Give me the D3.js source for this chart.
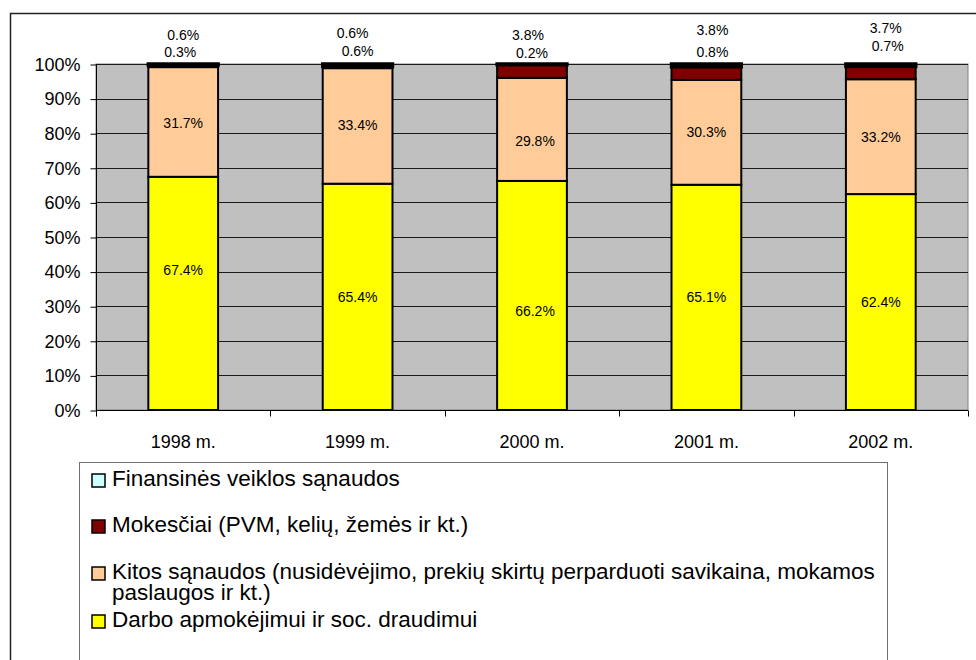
<!DOCTYPE html>
<html>
<head>
<meta charset="utf-8">
<script src="https://cdn.jsdelivr.net/npm/d3@7"></script>
<style>
  html, body { margin: 0; padding: 0; background: #fff; }
  svg { display: block; font-family: "Liberation Sans", Arial, sans-serif; }
</style>
</head>
<body>
<svg id="chart" width="976" height="660"></svg>
<script>
// ---- data ----
const years = ["1998 m.", "1999 m.", "2000 m.", "2001 m.", "2002 m."];
const darbo = [67.4, 65.4, 66.2, 65.1, 62.4];
const kitos = [31.7, 33.4, 29.8, 30.3, 33.2];
const mokesciai = [0.6, 0.6, 3.8, 3.8, 3.7];
const finansines = [0.3, 0.6, 0.2, 0.8, 0.7];
const yTicks = [0, 10, 20, 30, 40, 50, 60, 70, 80, 90, 100];
const seriesNames = [
  "Darbo apmokėjimui ir soc. draudimui",
  "Kitos sąnaudos (nusidėvėjimo, prekių skirtų perparduoti savikaina, mokamos paslaugos ir kt.)",
  "Mokesčiai (PVM, kelių, žemės ir kt.)",
  "Finansinės veiklos sąnaudos"
];

// ---- styles / layout ----
const colors = ["#FFFF00", "#FFCC99", "#800000", "#CCFFFF"];
const strokeW = [2, 2, 2, 3.5];
const plot = { left: 96, right: 968, top: 64, bottom: 410 };
// manual label nudges (px), as placed in the original
const darboDy = [-23, 0, 16, 0, 0];
const kitosDy = [1, -1, 12, 0, 0];
const innerDx = [0, 0, 3, 0, 0];
const topDx = [0, -5, -4, 6, 5];
const topY = [35, 33, 35, 30, 28];
const botDx = [-3, 0, 0, 6, 7];
const botY = [52, 51, 53, 52, 46];

const svg = d3.select("#chart");

// outer chart border
svg.append("rect").attr("x", 10.5).attr("y", 13.5).attr("width", 1000).attr("height", 700)
  .attr("fill", "#fff").attr("stroke", "#222").attr("stroke-width", 1.5);

const x = d3.scaleBand().domain(years).range([plot.left, plot.right]).paddingInner(0.6).paddingOuter(0.3);
const xc = d3.scaleBand().domain(years).range([plot.left, plot.right]);
const y = d3.scaleLinear().domain([0, 100]).range([plot.bottom, plot.top]);

// plot background
svg.append("rect").attr("x", plot.left).attr("y", plot.top)
  .attr("width", plot.right - plot.left).attr("height", plot.bottom - plot.top)
  .attr("fill", "#C0C0C0").attr("stroke", "#808080").attr("stroke-width", 1);

// gridlines
svg.append("g").selectAll("line").data(yTicks.filter(t => t > 0)).join("line")
  .attr("x1", plot.left).attr("x2", plot.right)
  .attr("y1", d => Math.round(y(d)) + 0.5).attr("y2", d => Math.round(y(d)) + 0.5)
  .attr("stroke", "#1a1a1a").attr("stroke-width", 1);

// y axis
const yAxis = d3.axisLeft(y).tickValues(yTicks).tickFormat(d => d + "%").tickSize(6).tickPadding(10);
const gy = svg.append("g").attr("transform", `translate(${plot.left + 0.5},0.5)`).call(yAxis);
gy.select(".domain").attr("stroke", "#000").attr("d", `M0,${plot.top}V${plot.bottom}`);
gy.selectAll("line").attr("stroke", "#000");
gy.selectAll("text").attr("font-size", 18).attr("fill", "#000")
  .attr("font-family", "Liberation Sans, Arial, sans-serif");

// x axis (ticks at category boundaries)
const gx = svg.append("g").attr("transform", `translate(0,${plot.bottom + 0.5})`);
gx.append("line").attr("x1", plot.left).attr("x2", plot.right).attr("stroke", "#000");
const bounds = years.map(d => xc(d)).concat([plot.right]);
gx.selectAll("line.tk").data(bounds).join("line").attr("class", "tk")
  .attr("x1", d => Math.round(d) + 0.5).attr("x2", d => Math.round(d) + 0.5)
  .attr("y1", 0).attr("y2", 6).attr("stroke", "#000");
gx.selectAll("text").data(years).join("text")
  .attr("x", d => xc(d) + xc.bandwidth() / 2).attr("y", 37)
  .attr("text-anchor", "middle").attr("font-size", 18).text(d => d);

// stacked bars
const rows = years.map((yr, i) => ({ year: yr, s0: darbo[i], s1: kitos[i], s2: mokesciai[i], s3: finansines[i] }));
const stack = d3.stack().keys(["s0", "s1", "s2", "s3"]);
const stacked = stack(rows);
svg.append("g").selectAll("g").data(stacked).join("g")
  .attr("fill", (d, i) => colors[i])
  .attr("stroke-width", (d, i) => strokeW[i])
  .selectAll("rect").data(d => d).join("rect")
  .attr("x", d => x(d.data.year)).attr("width", x.bandwidth())
  .attr("y", d => y(d[1])).attr("height", d => y(d[0]) - y(d[1]))
  .attr("stroke", "#000");

// inner labels
const lab = svg.append("g").attr("font-size", 14).attr("text-anchor", "middle").attr("fill", "#000");
stacked[0].forEach((d, i) => {
  lab.append("text").attr("x", x(d.data.year) + x.bandwidth() / 2 + innerDx[i])
    .attr("y", (y(d[0]) + y(d[1])) / 2 + darboDy[i]).attr("dy", "0.35em")
    .text(darbo[i].toFixed(1) + "%");
});
stacked[1].forEach((d, i) => {
  lab.append("text").attr("x", x(d.data.year) + x.bandwidth() / 2 + innerDx[i])
    .attr("y", (y(d[0]) + y(d[1])) / 2 + kitosDy[i]).attr("dy", "0.35em")
    .text(kitos[i].toFixed(1) + "%");
});
// top labels
years.forEach((yr, i) => {
  const cx = x(yr) + x.bandwidth() / 2;
  lab.append("text").attr("x", cx + topDx[i]).attr("y", topY[i]).attr("dy", "0.35em")
    .text(mokesciai[i].toFixed(1) + "%");
  lab.append("text").attr("x", cx + botDx[i]).attr("y", botY[i]).attr("dy", "0.35em")
    .text(finansines[i].toFixed(1) + "%");
});

// legend
const lg = svg.append("g");
lg.append("rect").attr("x", 79.5).attr("y", 462.5).attr("width", 808).attr("height", 300)
  .attr("fill", "#fff").attr("stroke", "#707070").attr("stroke-width", 1);
const legendItems = [
  { idx: 3, lines: ["Finansinės veiklos sąnaudos"], base: 486 },
  { idx: 2, lines: ["Mokesčiai (PVM, kelių, žemės ir kt.)"], base: 532 },
  { idx: 1, lines: ["Kitos sąnaudos (nusidėvėjimo, prekių skirtų perparduoti savikaina, mokamos", "paslaugos ir kt.)"], base: 579 },
  { idx: 0, lines: ["Darbo apmokėjimui ir soc. draudimui"], base: 627 }
];
legendItems.forEach(it => {
  lg.append("rect").attr("x", 92).attr("y", it.base - 12).attr("width", 13).attr("height", 13)
    .attr("fill", colors[it.idx]).attr("stroke", "#000").attr("stroke-width", 1.5);
  const t = lg.append("text").attr("x", 112).attr("y", it.base).attr("font-size", 22.5).attr("fill", "#000");
  it.lines.forEach((ln, k) => {
    t.append("tspan").attr("x", 112).attr("y", it.base + k * 21).text(ln);
  });
});
</script>
</body>
</html>
